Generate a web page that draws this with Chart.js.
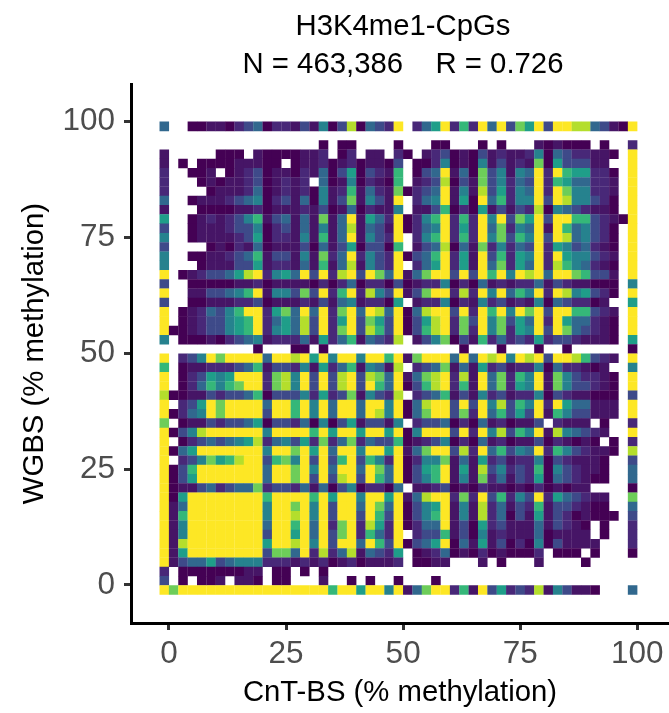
<!DOCTYPE html>
<html>
<head>
<meta charset="utf-8">
<title>H3K4me1-CpGs</title>
<script src="https://cdn.jsdelivr.net/npm/chart.js@4"></script>
<style>
  html, body { margin: 0; padding: 0; background: #fff; }
  canvas { display: block; }
</style>
</head>
<body>
<canvas id="heat" width="669" height="713"></canvas>
<script>
// colour level of each bin, top row (WGBS ~99) to bottom row (WGBS ~-1)
// . = no bin, a = between 0 and 1, 0-9 = steps along viridis
const cellRows = [
  "3..00aa012 3011a2a402 803219.135 9161939275 92998832a09",
  ".......... .......... .......... .......... ...........",
  ".......... .......0.0 0....0...0 0...0.0... a0a000.0..1",
  "a.....000. a0000aa1.0 1.aa.10.a1 20a02a1aa1 403211aa0.9",
  "a.0.0000aa a00.0aa10a 10aa02.001 40a04a2a1a 705222aa..9",
  "1..00a.0a1 20aa01a302 5021a6.023 9a30724a43 919655110.9",
  "1...0a0aa1 20a1a1.30a 401a06.a12 802a724132 91653311a.9",
  "1....0aaa1 30a1a104a1 6a31a70123 9a4a825143 91974411a.9",
  "3..0aaa123 4012a304a2 7a42a9.134 9a50936144 929844210.9",
  "a...0000aa 10aaa1a20a 301aa4.aa2 60105a2a21 804321aa0.9",
  "5..0a1a124 6a23a3a7a3 9a53190146 9161949275 92996621a09",
  "2..0aaa122 4012a3a4a3 8a32a90134 9151937143 9a9634210.9",
  "4..0aaaa12 5011a4a6a3 9a4219.146 9161947264 929834210.9",
  "2....0a01a 30aaa203a2 502206.a23 803a714132 9154231a0.9",
  "4..00aa123 6a22a4a713 9142190236 915a926154 91954421a.9",
  "4...0aaa22 5a11a3a6a3 8a4219.135 915a937153 9186431a0.9",
  "9.0a122358 9145392918 929739a379 9292969498 93997622a.9",
  "2..00000aa 10aaaa0101 3011020a11 40103a1a11 3a21aa000.4",
  "9..aa22346 9a44272916 918429a279 9181949364 919845210.9",
  "2..00aaa11 20aaa1a2a3 4a1105.a11 401a412a1a 4032110a..5",
  "9.0a132469 9157393917 9398390389 9291969497 92996621a.9",
  "9.0a122456 9135382915 9275290258 9172947253 9195331a0.9",
  "900a122456 9145382917 9286290268 9171947154 9297321a0.9",
  "4.000a0123 4a1113a513 6a3218.a24 702a613121 51221aaa0.5",
  ".......... 0...00.0.. .......... ..0...0... 0..0......0",
  "9.12497999 9399895949 949969a799 9393989498 92998621a.9",
  "6.0aa11123 6a2214a513 6a43a8.123 7a3a512a11 40311a0a..4",
  "9.01254599 9178492928 928739a378 918a937164 9a74211a0.9",
  "9.01364679 9178492928 9296390268 916a937154 9a74221a0.9",
  "800aa21223 6022241512 7a4218.123 6a2a412a11 4021aa000.2",
  "9.12597999 9399694939 9399490389 9292948264 919533aaa.9",
  "9013497999 9299694939 9398490379 9271936252 9a6422aaa.9",
  "7.0aa21223 5022130402 5a22a4.122 30103a10aa 2.1aaa.0..1",
  "9024899999 9499996959 9599590499 9291948264 9a84321a..9",
  "9.01232345 8134251713 7132260a12 40103a10aa 201a0a0.0.1",
  "9035999999 9499795939 949959a379 9281936243 916421aa0.8",
  "9.12475689 9267492926 9264190144 7a3a512a11 4021aaa0..2",
  "9026999999 9399794939 9397390256 9a5a824121 60421aa0..3",
  "9025999999 9399792928 9296390246 9a4a713a21 50321a00..3",
  "90aa231233 712213a302 401103.aa1 20a01aa0a0 10a0aa....0",
  "9059999999 9699996959 949959a389 9171926142 915321aa..7",
  "9a39999999 9499794929 9397390245 9a4a813a21 6a221a00..3",
  "9a69999999 9499894929 9296290246 9a4a81302a 5a210a000.2",
  "9a49999999 9399693917 9185190133 9a20512aaa 3a21a0.0..1",
  "9a49999999 9299593927 916319.122 6a204a1aaa 30aaaa.0..1",
  "9a89999999 9599894929 9396290235 903a5a2010 402aaaa...1",
  "9a59999999 9277391813 8a3215.0a1 30a010a000 1.000.0...0",
  "9a23352344 4111a1a10a 10aaa1.00a a...a.0... a....0.....",
  "1.0000000a a.00.0.0.. .......... .......... ...........",
  "2.0.00a.aa 0.00...a.. 0.0..0...0 .......... ...........",
  "9799999999 9999999969 959949a379 916a925121 8a42aa0...3"
]

const titleLines = ['H3K4me1-CpGs', 'N = 463,386    R = 0.726']
const xLabel = 'CnT-BS (% methylation)'
const yLabel = 'WGBS (% methylation)'
const tickValues = [0, 25, 50, 75, 100]
const viridis = ['#440154', '#482878', '#3e4a89', '#31688e', '#26828e',
                 '#1f9e89', '#35b779', '#6dcd59', '#b4de2c', '#fde725']

// bin centres, bins are 2 % wide
const firstX = -1, stepX = 2
const firstY = 98.9, stepY = 2

function hexToRgb(h) {
  return [1, 3, 5].map(i => parseInt(h.substr(i, 2), 16))
}

function levelColor(v) {
  const lo = Math.floor(v), hi = Math.ceil(v), t = v - lo
  const a = hexToRgb(viridis[lo]), b = hexToRgb(viridis[hi])
  const c = a.map((n, i) => Math.round(n + (b[i] - n) * t))
  return 'rgb(' + c.join(',') + ')'
}

const cells = []
cellRows.forEach((row, r) => {
  row.replace(/ /g, '').split('').forEach((ch, k) => {
    if (ch === '.') return
    cells.push({
      x: firstX + stepX * k,
      y: firstY - stepY * r,
      v: ch === 'a' ? 0.5 : Number(ch)
    })
  })
})

const fontName = '"Liberation Sans", Arial, sans-serif'
const tickFont = { family: fontName, size: 31.5 }
const labelFont = { family: fontName, size: 29.3 }

function axis(min, max, label, pad, tickPad) {
  return {
    type: 'linear',
    min: min,
    max: max,
    afterBuildTicks: scale => { scale.ticks = tickValues.map(v => ({ value: v })) },
    border: { display: true, color: '#000', width: 3 },
    grid: { drawOnChartArea: false, drawTicks: true, tickLength: 7, tickWidth: 3, tickColor: '#333' },
    ticks: { color: '#4d4d4d', font: tickFont, padding: tickPad, maxRotation: 0, autoSkip: false },
    title: { display: true, text: label, color: '#000', font: labelFont, padding: pad }
  }
}

// the panel box is fixed, tick labels may hang past it
function noPadding(scale) {
  scale.paddingLeft = 0
  scale.paddingRight = 0
  scale.paddingTop = 0
  scale.paddingBottom = 0
}

const xAxis = axis(-8.11, 106.77, xLabel, { top: 0, bottom: 3 }, 5)
xAxis.afterFit = scale => { scale.height = 90; noPadding(scale) }
const yAxis = axis(-8.2, 108, yLabel, { top: 17, bottom: 0 }, 9)
yAxis.afterFit = scale => { scale.width = 131; noPadding(scale) }

// scatter reserves the point radius around the chart, the axis has to reach the edge here
Chart.registry.getController('scatter').prototype.getMaxOverflow = function () { return 0 }

// title sits a little right of the panel centre in the reference
const nudgeTitle = {
  id: 'nudgeTitle',
  afterLayout(chart) { chart.titleBlock.left += 6 }
}

new Chart(document.getElementById('heat'), {
  type: 'scatter',
  data: {
    datasets: [{
      label: 'CpGs',
      data: cells,
      pointStyle: 'rect',
      pointRadius: 6.75,
      borderWidth: 0,
      backgroundColor: ctx => ctx.raw ? levelColor(ctx.raw.v) : '#440154'
    }]
  },
  options: {
    responsive: false,
    animation: false,
    layout: { padding: 0 },
    scales: { x: xAxis, y: yAxis },
    plugins: {
      legend: { display: false },
      tooltip: { enabled: false },
      title: {
        display: true,
        text: titleLines,
        color: '#000',
        fullSize: false,
        font: { family: fontName, size: 29.3, weight: 'normal', lineHeight: 1.3 },
        padding: { top: 8, bottom: 0 }
      }
    }
  },
  plugins: [nudgeTitle]
})
</script>
</body>
</html>
